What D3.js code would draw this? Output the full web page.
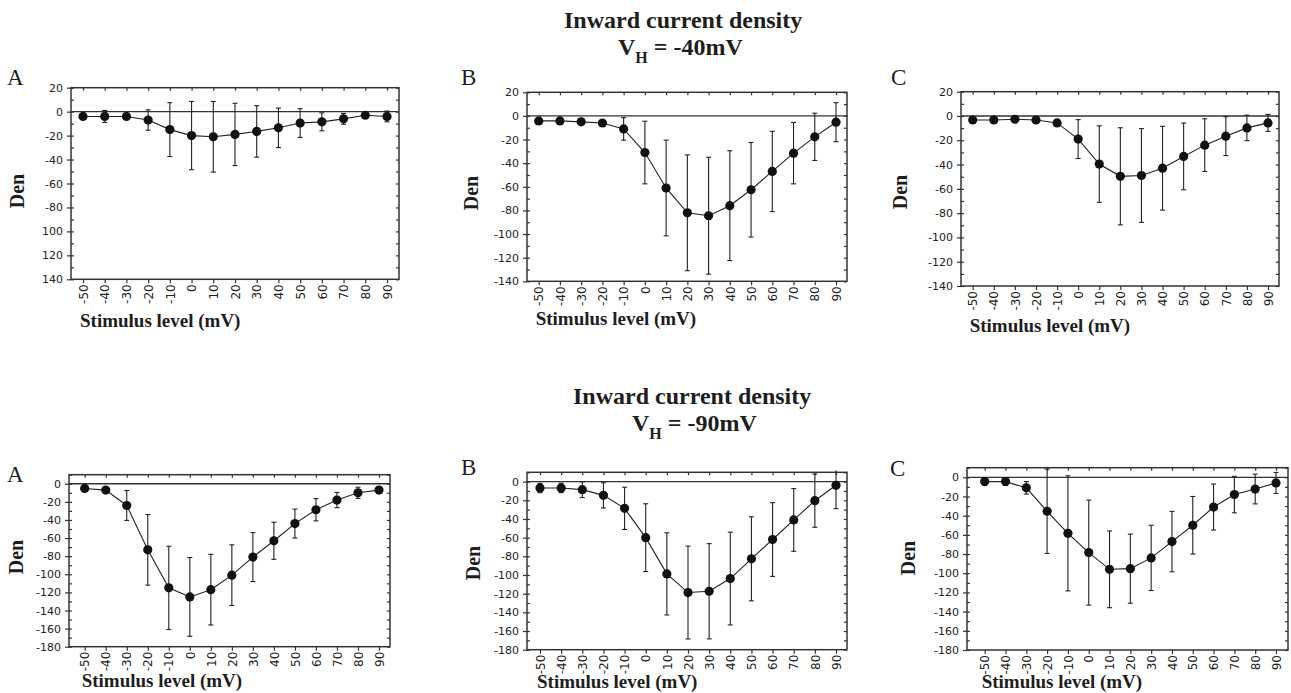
<!DOCTYPE html>
<html>
<head>
<meta charset="utf-8">
<title>Inward current density</title>
<script src="https://cdnjs.cloudflare.com/ajax/libs/d3/7.8.5/d3.min.js"></script>
<style>
  body { margin: 0; background: #fff; }
  svg text { fill: #1e1e1e; }
  .serif { font-family: "Liberation Serif", "Times New Roman", serif; }
  .tick text { font-family: "DejaVu Sans", sans-serif; font-size: 11px; fill: #222; }
  .xaxis .tick text { font-size: 12px; }
  .tick line { stroke: #333; stroke-width: 1.2; }
</style>
</head>
<body>
<svg id="chart" width="1291" height="693"></svg>
<script>
// stimulus levels (mV) shared by every panel
var stimulus = [-50, -40, -30, -20, -10, 0, 10, 20, 30, 40, 50, 60, 70, 80, 90];

// V_H = -40mV : mean density and error (SD) per stimulus level
var denA40 = [-4, -4, -4, -7, -15, -20, -21, -19, -16.5, -13.5, -9.5, -8.5, -6, -3, -4];
var errA40 = [1.5, 5, 1.5, 8.5, 22.5, 28.5, 29.5, 26, 21.5, 16.5, 12, 7.5, 4.5, 2, 4.5];
var denB40 = [-4.2, -4.2, -5, -6, -11, -31, -61, -82, -84.5, -76, -62.5, -47, -31.5, -17.7, -5.3];
var errB40 = [1.5, 1.5, 1.5, 1.5, 9.5, 26.5, 40.5, 49, 49.5, 46.5, 40, 34, 26, 20, 16.5];
var denC40 = [-3.3, -3.3, -2.7, -3.3, -5.7, -19, -39.6, -49.7, -49, -43, -33.3, -24, -16.6, -9.8, -5.7];
var errC40 = [1.5, 1.5, 1.5, 1.5, 2, 16, 31.5, 40, 38.6, 34.5, 27.5, 21.7, 16, 10.5, 7];

// V_H = -90mV
var denA90 = [-5.2, -7, -24, -73, -115, -125, -117, -101, -81, -63, -44, -28.7, -18, -10, -7];
var errA90 = [2, 2, 16.5, 39, 46, 43.5, 39, 33.5, 27, 20.5, 16, 12.3, 8.4, 6.2, 3.5];
var denB90 = [-6.8, -6.8, -8.6, -14.7, -28.6, -60, -98.8, -118.8, -117.4, -103.8, -82.7, -62, -41, -20.4, -3.9];
var errB90 = [5, 5, 8.5, 13.5, 22.6, 36.3, 44, 49.7, 51, 49.7, 45, 39.5, 33.6, 28.5, 25];
var denC90 = [-4.5, -4.5, -11, -35.4, -58.4, -78.5, -95.9, -95.2, -84, -67, -50, -31, -18, -12.2, -5.9];
var errC90 = [4, 4, 6.5, 44, 60, 54.7, 40, 36, 34, 31.5, 30, 24, 19, 15.5, 11];

// y tick labels (panel A of the top row prints the last three without a minus sign)
var ticksTop = [20, 0, -20, -40, -60, -80, -100, -120, -140];
var labelsTopA = ["20", "0", "-20", "-40", "-60", "-80", "100", "120", "140"];
var ticksBottom = [0, -20, -40, -60, -80, -100, -120, -140, -160, -180];

var panels = [
  {letter: "A", mean: denA40, err: errA40, ticks: ticksTop, labels: labelsTopA, yMax: 20, yMin: -140,
   left: 71, right: 399, top: 87.7, bottom: 279.3, x0: 83, x1: 387,
   letterX: 7, letterY: 85, denX: 17, denY: 191, xlabY: 327},
  {letter: "B", mean: denB40, err: errB40, ticks: ticksTop, labels: null, yMax: 20, yMin: -140,
   left: 527, right: 847, top: 92.3, bottom: 281.3, x0: 538.7, x1: 836,
   letterX: 461, letterY: 85, denX: 471.5, denY: 193, xlabY: 325},
  {letter: "C", mean: denC40, err: errC40, ticks: ticksTop, labels: null, yMax: 20, yMin: -140,
   left: 961, right: 1279, top: 91.7, bottom: 286, x0: 972.7, x1: 1268,
   letterX: 891, letterY: 85, denX: 900, denY: 192, xlabY: 332},
  {letter: "A", mean: denA90, err: errA90, ticks: ticksBottom, labels: null, yMax: 10, yMin: -180,
   left: 69, right: 390, top: 474.7, bottom: 646.7, x0: 84.7, x1: 379,
   letterX: 7, letterY: 482, denX: 16, denY: 557, xlabY: 687},
  {letter: "B", mean: denB90, err: errB90, ticks: ticksBottom, labels: null, yMax: 10, yMin: -180,
   left: 527, right: 847, top: 472.3, bottom: 649.7, x0: 540, x1: 836,
   letterX: 461, letterY: 475, denX: 473, denY: 563, xlabY: 688},
  {letter: "C", mean: denC90, err: errC90, ticks: ticksBottom, labels: null, yMax: 10, yMin: -180,
   left: 967, right: 1288, top: 467.7, bottom: 650, x0: 984.7, x1: 1276,
   letterX: 890, letterY: 476, denX: 908, denY: 558, xlabY: 688}
];

var svg = d3.select("#chart");

// titles
function title(x, y, vx, vy, hold) {
  svg.append("text").attr("class", "serif")
      .attr("x", x).attr("y", y)
      .style("font-size", "24px").style("font-weight", "bold")
      .text("Inward current density");
  var t = svg.append("text").attr("class", "serif")
      .attr("x", vx).attr("y", vy)
      .style("font-size", "24px").style("font-weight", "bold");
  t.append("tspan").text("V");
  t.append("tspan").attr("dy", 8).style("font-size", "16px").text("H");
  t.append("tspan").attr("dy", -8).text(" = " + hold);
}
title(564, 28, 618, 54.5, "-40mV");
title(573, 404, 632, 431, "-90mV");

panels.forEach(function(p) {
  var x = d3.scaleLinear().domain([-50, 90]).range([p.x0, p.x1]);
  var y = d3.scaleLinear().domain([p.yMin, p.yMax]).range([p.bottom, p.top]);
  var g = svg.append("g");

  var minor = d3.range(p.yMax, p.yMin - 1, -10);

  // left axis: outward major ticks with labels, inward minor ticks
  g.append("g").attr("transform", "translate(" + p.left + ",0)")
      .call(d3.axisLeft(y).tickValues(p.ticks).tickSize(4).tickPadding(4)
        .tickFormat(function(d, i) { return p.labels ? p.labels[i] : String(d); }))
      .call(function(a) { a.select(".domain").remove(); });
  g.append("g").attr("transform", "translate(" + p.left + ",0)")
      .call(d3.axisLeft(y).tickValues(minor).tickSize(-3).tickFormat(""))
      .call(function(a) { a.select(".domain").remove(); });

  // right axis: inward ticks
  g.append("g").attr("transform", "translate(" + p.right + ",0)")
      .call(d3.axisRight(y).tickValues(minor).tickSize(-3).tickFormat(""))
      .call(function(a) { a.select(".domain").remove(); });

  // top axis: inward ticks
  g.append("g").attr("transform", "translate(0," + p.top + ")")
      .call(d3.axisTop(x).tickValues(stimulus).tickSize(-3).tickFormat(""))
      .call(function(a) { a.select(".domain").remove(); });

  // bottom axis: outward ticks, rotated labels
  g.append("g").attr("class", "xaxis").attr("transform", "translate(0," + p.bottom + ")")
      .call(d3.axisBottom(x).tickValues(stimulus).tickSize(4).tickFormat(function(d) { return String(d); }))
      .call(function(a) { a.select(".domain").remove(); })
      .selectAll("text")
        .attr("transform", "rotate(-90)")
        .attr("text-anchor", "end")
        .attr("x", -5).attr("y", 0).attr("dy", "0.35em");

  // frame
  g.append("rect")
      .attr("x", p.left).attr("y", p.top)
      .attr("width", p.right - p.left).attr("height", p.bottom - p.top)
      .attr("fill", "none").attr("stroke", "#333").attr("stroke-width", 1.5);

  // zero line
  g.append("line")
      .attr("x1", p.left).attr("x2", p.right)
      .attr("y1", y(0)).attr("y2", y(0))
      .attr("stroke", "#333").attr("stroke-width", 1.3);

  var pts = stimulus.map(function(s, i) { return {s: s, m: p.mean[i], e: p.err[i]}; });

  // error bars
  var eb = g.selectAll(".eb").data(pts).enter().append("g");
  eb.append("line")
      .attr("x1", function(d) { return x(d.s); }).attr("x2", function(d) { return x(d.s); })
      .attr("y1", function(d) { return Math.max(y(d.m + d.e), p.top - 2); })
      .attr("y2", function(d) { return y(d.m - d.e); })
      .attr("stroke", "#222").attr("stroke-width", 1.1);
  eb.filter(function(d) { return y(d.m + d.e) > p.top - 2; }).append("line")
      .attr("x1", function(d) { return x(d.s) - 2.5; }).attr("x2", function(d) { return x(d.s) + 2.5; })
      .attr("y1", function(d) { return y(d.m + d.e); }).attr("y2", function(d) { return y(d.m + d.e); })
      .attr("stroke", "#222").attr("stroke-width", 1.1);
  eb.append("line")
      .attr("x1", function(d) { return x(d.s) - 2.5; }).attr("x2", function(d) { return x(d.s) + 2.5; })
      .attr("y1", function(d) { return y(d.m - d.e); }).attr("y2", function(d) { return y(d.m - d.e); })
      .attr("stroke", "#222").attr("stroke-width", 1.1);

  // mean line and points
  g.append("path").datum(pts)
      .attr("d", d3.line().x(function(d) { return x(d.s); }).y(function(d) { return y(d.m); }))
      .attr("fill", "none").attr("stroke", "#222").attr("stroke-width", 1.1);
  g.selectAll(".pt").data(pts).enter().append("circle")
      .attr("cx", function(d) { return x(d.s); })
      .attr("cy", function(d) { return y(d.m); })
      .attr("r", 4.6).attr("fill", "#111");

  // labels
  svg.append("text").attr("class", "serif")
      .attr("x", p.letterX).attr("y", p.letterY)
      .style("font-size", "23px")
      .text(p.letter);
  svg.append("text").attr("class", "serif")
      .attr("transform", "translate(" + (p.denX + 6.5) + "," + p.denY + ") rotate(-90)")
      .attr("text-anchor", "middle")
      .style("font-size", "20px").style("font-weight", "bold")
      .text("Den");
  svg.append("text").attr("class", "serif")
      .attr("x", x(-50) - 3).attr("y", p.xlabY)
      .style("font-size", "19px").style("font-weight", "bold")
      .text("Stimulus level (mV)");
});
</script>
</body>
</html>
